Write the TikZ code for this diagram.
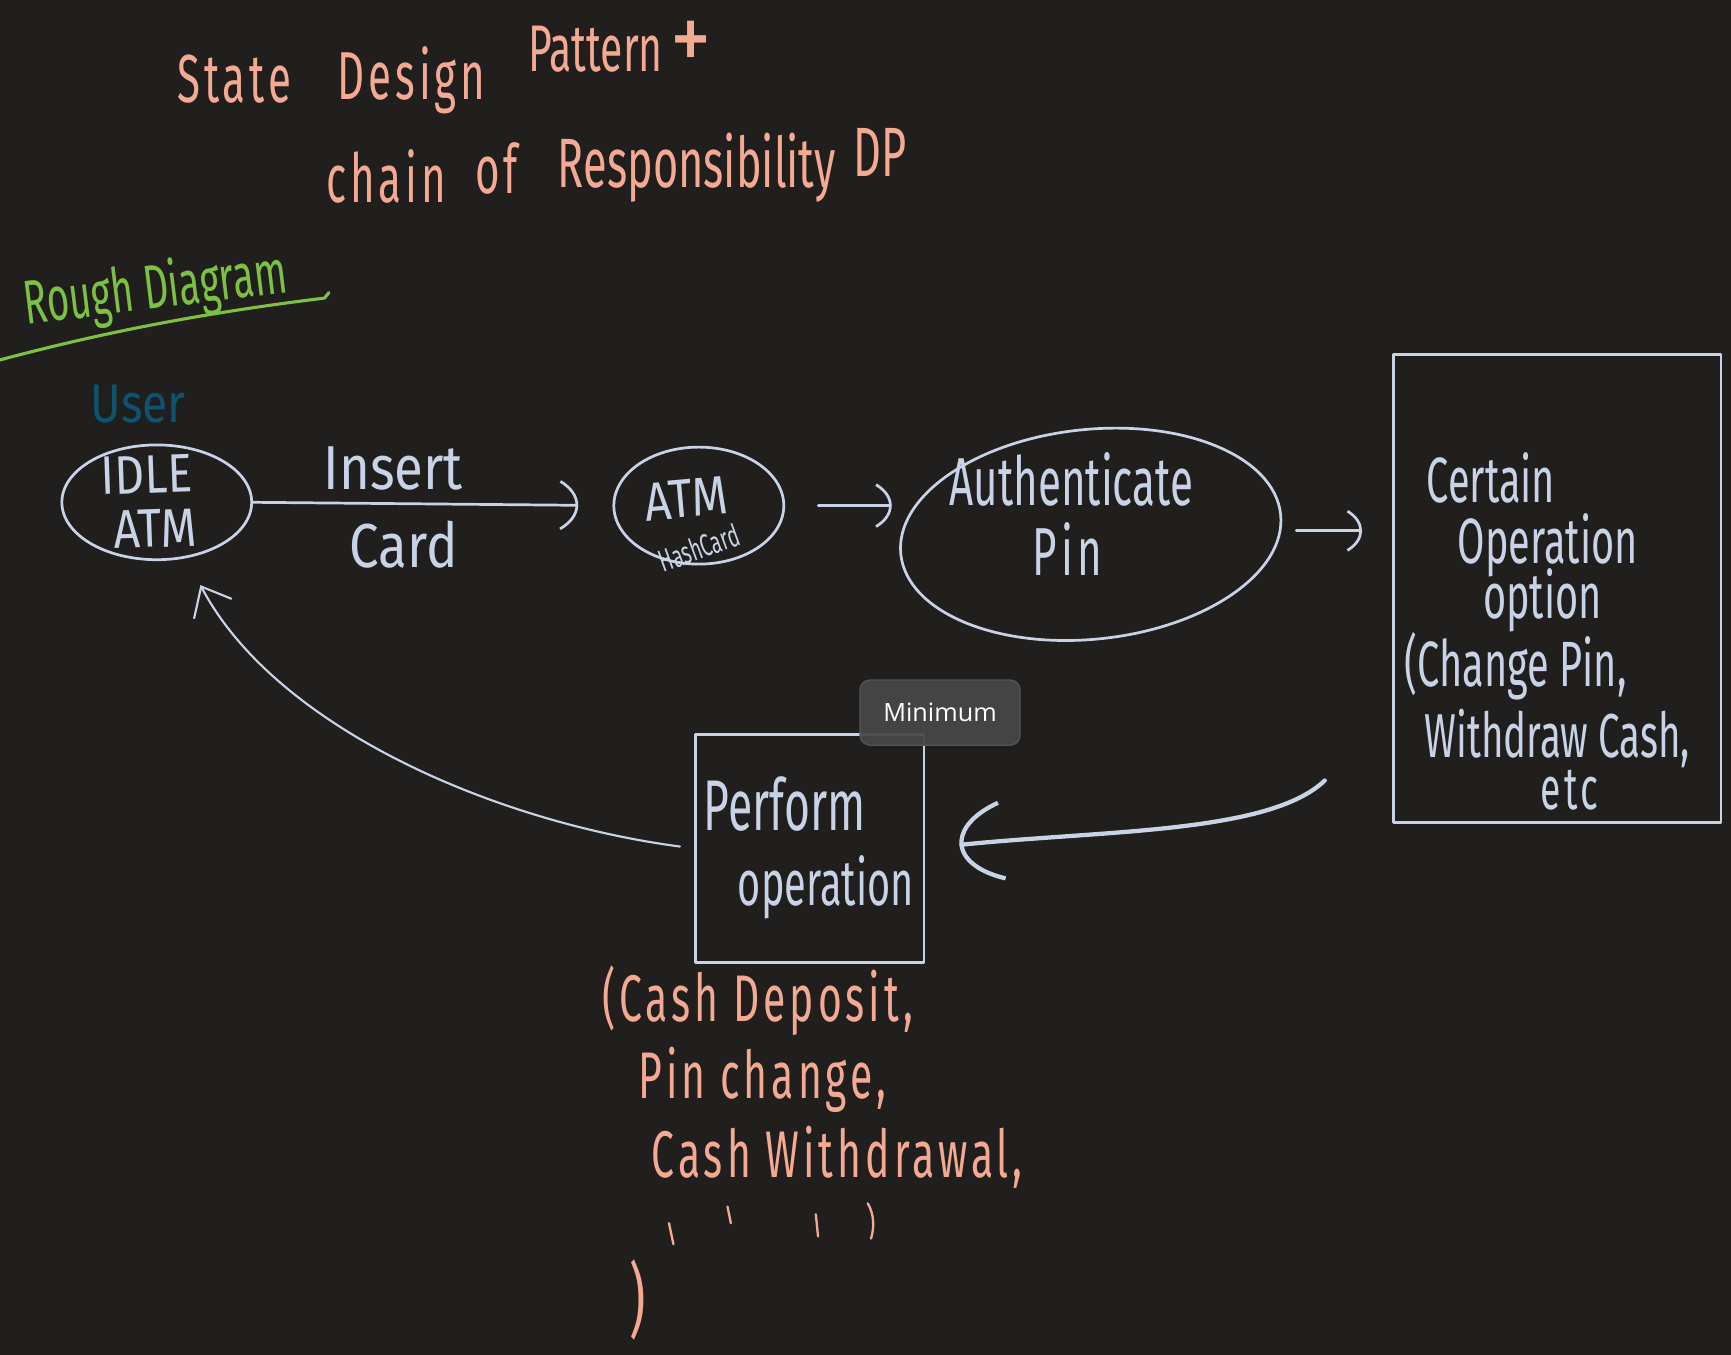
\documentclass[tikz,border=0pt]{standalone}
\usepackage{fontspec}
\setmainfont{Fira Sans}[FakeStretch=0.62]
\newfontfamily\hwwide{Fira Sans}[FakeStretch=0.85]
\newfontfamily\hwspaced{Fira Sans}[FakeStretch=0.62,LetterSpace=6]
\newfontfamily\uifont{Open Sans}
\usetikzlibrary{shapes.geometric,arrows.meta}
\definecolor{bgc}{HTML}{201F1E}
\definecolor{ink}{HTML}{C9D3E6}
\definecolor{peach}{HTML}{F4A992}
\definecolor{leaf}{HTML}{7DC142}
\definecolor{userteal}{HTML}{0D5470}
\definecolor{tipc}{HTML}{474747}
\definecolor{tipedge}{HTML}{555555}
\begin{document}
\begin{tikzpicture}[x=0.02cm,y=-0.02cm,line cap=round,line join=round,
  txt/.style={inner sep=0pt,anchor=base west},
  inktxt/.style={txt,text=ink},
  peachtxt/.style={txt,text=peach},
  fs/.style={font=\fontsize{#1}{#1}\selectfont},
  fw/.style={font=\hwwide\fontsize{#1}{#1}\selectfont},
  fsp/.style={font=\hwspaced\fontsize{#1}{#1}\selectfont},
  shapeline/.style={draw=ink,line width=1.4pt},
  ell/.style={shapeline,ellipse,inner sep=0pt},
  boxn/.style={shapeline,rectangle,inner sep=0pt},
  conn/.style={draw=ink,line width=1.4pt},
  smalltip/.style={-{Arc Barb[arc=90,length=30pt,width=36pt]}},
]
\useasboundingbox (0,0) rectangle (1568,1227);
\fill[bgc] (0,0) rectangle (1568,1227);

% ---- title ----
\node[peachtxt,fsp=35] (t1) at (160,93) {State};
\node[peachtxt,fsp=35] (t2) at (305,90) {Design};
\node[peachtxt,fs=34] (t3) at (478,65) {Pattern};
\node[inner sep=0pt,text=peach,font=\hwwide\fontsize{50}{50}\selectfont] (t4) at (626,42) {+};
\node[peachtxt,fsp=35] (t5) at (295,183) {chain};
\node[peachtxt,fsp=35] (t6) at (430,175) {of};
\node[peachtxt,fs=36] (t7) at (505,170) {Responsibility};
\node[peachtxt,fs=36] (t8) at (773,160) {DP};

% ---- rough diagram ----
\node[txt,text=leaf,fs=32,rotate=7] (rough) at (24,294) {Rough Diagram};
\draw[leaf,line width=1.6pt] (0,326) .. controls (90,302) and (180,284) .. (294,270) -- (298,265);

\node[txt,text=userteal,fw=28] (user) at (82,383) {User};

% ---- nodes ----
\node[ell,minimum width=3.44cm,minimum height=2.08cm] (idle) at (142,455) {};
\node[inktxt,fw=28,rotate=2] (idleA) at (92,448) {IDLE};
\node[inktxt,fw=28,rotate=2] (idleB) at (103,497) {ATM};

\node[ell,minimum width=3.08cm,minimum height=2.12cm] (hash) at (633,458) {};
\node[inktxt,fw=28,rotate=5] (hashA) at (585,472) {ATM};
\node[inktxt,fs=16,rotate=20] (hashB) at (601,519) {HashCard};

\node[ell,rotate=6,minimum width=6.92cm,minimum height=3.8cm] (auth) at (988,484) {};
\node[inktxt,fs=35] (authA) at (860,458) {Authenticate};
\node[inktxt,fsp=35] (authB) at (935,521) {Pin};

\node[boxn,minimum width=5.94cm,minimum height=8.48cm] (cert) at (1410.5,533) {};
\node[inktxt,fs=33] (c1) at (1292,455) {Certain};
\node[inktxt,fs=33] (c2) at (1320,510) {Operation};
\node[inktxt,fs=33] (c3) at (1343,560) {option};
\node[inktxt,fs=33] (c4) at (1272,622) {(Change Pin,};
\node[inktxt,fs=32] (c5) at (1290,686) {Withdraw Cash,};
\node[inktxt,fsp=31] (c6) at (1395,733) {etc};

\node[boxn,minimum width=4.14cm,minimum height=4.14cm] (perf) at (733.5,768.5) {};
\node[inktxt,fs=37] (p1) at (637,752) {Perform};
\node[inktxt,fs=33] (p2) at (668,820) {operation};

\node[fill=tipc,fill opacity=0.93,text opacity=1,draw=tipedge,line width=0.6pt,rounded corners=5pt,
      minimum width=2.9cm,minimum height=1.18cm,text=white,
      font=\uifont\fontsize{13}{14}\selectfont] (mini) at (851.5,645.5) {Minimum};

% ---- operations list ----
\node[peachtxt,fsp=34] (o1) at (545,925) {(Cash Deposit,};
\node[peachtxt,fsp=34] (o2) at (578,995) {Pin change,};
\node[peachtxt,fsp=34] (o3) at (590,1067) {Cash Withdrawal,};
\draw[peach,line width=1.2pt] (606,1108) -- (610,1127);
\draw[peach,line width=1.2pt] (659,1093) -- (662,1108);
\draw[peach,line width=1.2pt] (739,1100) -- (741,1120);
\draw[peach,line width=1.2pt] (786,1090) .. controls (792,1100) and (792,1112) .. (789,1122);
\node[inner sep=0pt,text=peach,font=\fontsize{42}{42}\selectfont] (o4) at (578,1178) {)};

% ---- connectors ----
\draw[conn,smalltip,shorten >=0.62cm] (idle.east) -- (hash.west)
  node[pos=0.39,inktxt,fw=32,anchor=south,yshift=6pt] (ins) {Insert}
  node[pos=0.42,inktxt,fw=32,anchor=north,yshift=-8pt] (card) {Card};
\draw[conn,-{Arc Barb[arc=90,length=26pt,width=32pt]},shorten <=0.6cm,shorten >=0.14cm]
  (hash.east) -- (hash.east -| auth.west);
\draw[conn,-{Arc Barb[arc=90,length=24pt,width=30pt]},shorten <=0.26cm,shorten >=0.54cm]
  ([yshift=-0.3cm]auth.east) -- ([yshift=-0.3cm]auth.east -| cert.west);
\coordinate (cs) at (1200,707);
\draw[conn,line width=2.2pt,-{Arc Barb[arc=110,length=50pt,width=50pt]},shorten >=0.62cm]
  (cs) .. controls (1150,755) and (1000,752) .. (perf.east);
\draw[conn,line width=1.1pt,-{Straight Barb[length=13pt,width=22pt]},shorten <=0.26cm,shorten >=0.55cm]
  (perf.west) .. controls (450,745) and (250,660) .. (idle);
\end{tikzpicture}
\end{document}
